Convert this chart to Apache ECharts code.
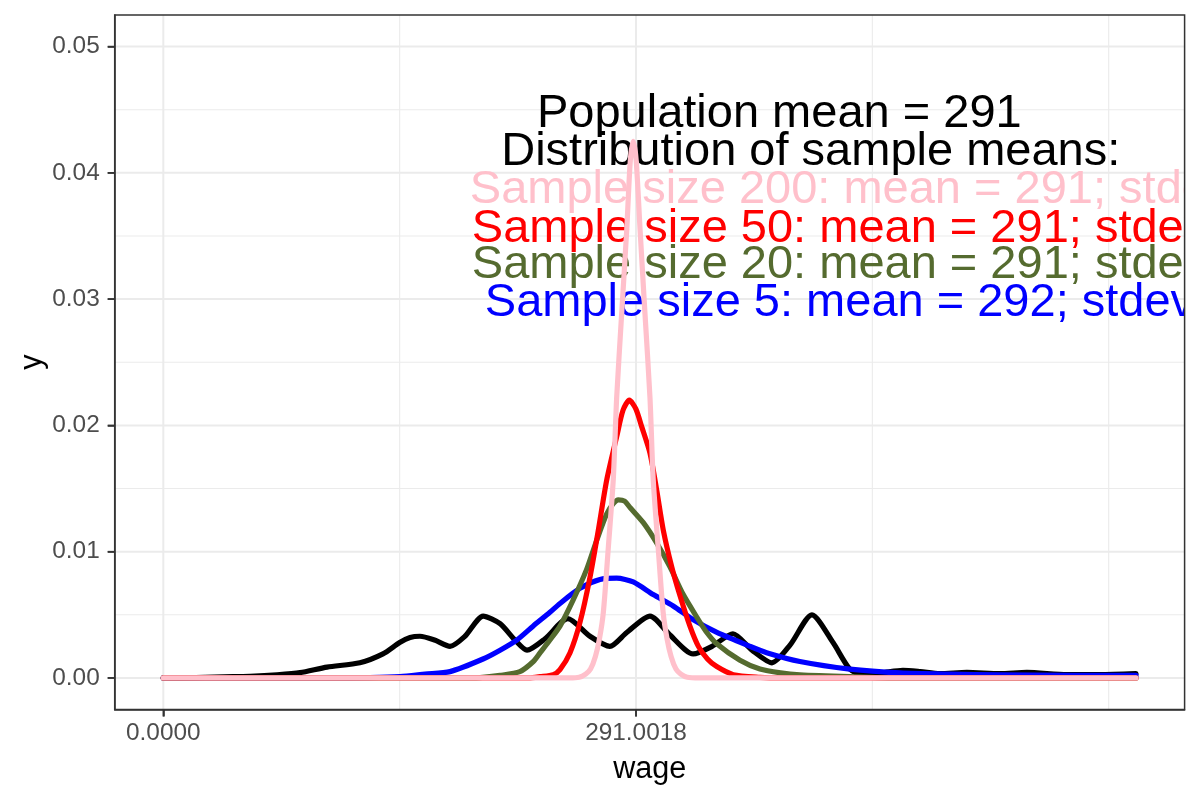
<!DOCTYPE html>
<html>
<head>
<meta charset="utf-8">
<script src="https://cdn.jsdelivr.net/npm/echarts@6/dist/echarts.min.js"></script>
<style>
html, body { margin: 0; padding: 0; background: #ffffff; }
#chart { width: 1200px; height: 800px; }
</style>
</head>
<body>
<div id="chart"></div>
<script>
// ---- Data ----
// Population density (black)
const xBlack = [0, 20, 42.9, 53.4, 70, 84.2, 100.8, 121, 135.2, 145.5, 151.9, 158, 167, 176.5, 185.7, 196.9, 207.3, 216.5, 223.9, 235, 249, 262.7, 274.9, 285.3, 299.6, 311.9, 326.2, 337.8, 350.7, 362.4, 374.7, 385.8, 399.3, 412.3, 422.6, 430, 442, 455.3, 466, 478, 494.7, 515, 531.6, 556.3, 576.6, 598.8];
const yBlack = [0, 0.00002, 0.0001, 0.00013, 0.00025, 0.00042, 0.00086, 0.0012, 0.0019, 0.0028, 0.0032, 0.0033, 0.0030, 0.0025, 0.0033, 0.0049, 0.0043, 0.0030, 0.0022, 0.0031, 0.0047, 0.0033, 0.0025, 0.0036, 0.0049, 0.0034, 0.0019, 0.0025, 0.0035, 0.0022, 0.0012, 0.0026, 0.0050, 0.0028, 0.0007, 0.0003, 0.0004, 0.0006, 0.0005, 0.00034, 0.00044, 0.00034, 0.00044, 0.00026, 0.00026, 0.00034];
// Sample size 5 (blue)
const xBlue = [0, 100, 127.2, 145.7, 161.1, 176.5, 196.8, 207.3, 217.6, 227.6, 238, 244.2, 256.5, 268.8, 279.1, 289.3, 301.6, 313.9, 326.3, 340.8, 361.2, 371.4, 391.9, 422.7, 453.5, 484.3, 515, 560, 598.8];
const yBlue = [0, 0, 0.00002, 0.0001, 0.0003, 0.0005, 0.0015, 0.0022, 0.0030, 0.0041, 0.0052, 0.0059, 0.0071, 0.0078, 0.0079, 0.0076, 0.0066, 0.0057, 0.0046, 0.0036, 0.0025, 0.0020, 0.0013, 0.0007, 0.0004, 0.0003, 0.00025, 0.0002, 0.0002];
// Sample size 20 (dark olive green)
const xGreen = [0, 180, 195, 207.3, 219.5, 227.8, 232, 238, 244.2, 252.4, 260.6, 266.8, 273, 277, 280.1, 284, 287.3, 295.5, 303.7, 311.9, 320.1, 328.5, 334, 340.7, 355, 367.3, 380, 391.9, 422.7, 453.5, 598.8];
const yGreen = [0, 0, 0.00003, 0.0002, 0.0005, 0.0013, 0.0020, 0.0030, 0.0041, 0.0062, 0.0086, 0.0109, 0.0130, 0.0138, 0.0141, 0.0140, 0.0135, 0.0123, 0.0107, 0.0088, 0.0066, 0.0048, 0.0037, 0.0027, 0.0014, 0.0007, 0.0004, 0.00025, 0.0001, 0, 0];
// Sample size 50 (red)
const xRed = [0, 225, 232, 240.1, 244.2, 250.4, 256.5, 262.7, 267.8, 273, 279.1, 283, 286.9, 290.9, 294.5, 299.6, 303.7, 307.8, 313, 318.1, 324.2, 329.4, 335, 340.7, 350.9, 367.3, 380, 598.8];
const yRed = [0, 0, 0.0001, 0.00026, 0.00066, 0.0020, 0.0044, 0.0080, 0.0117, 0.0157, 0.0191, 0.0212, 0.0220, 0.0213, 0.0199, 0.0178, 0.0149, 0.0117, 0.0088, 0.0065, 0.0041, 0.0025, 0.0015, 0.0009, 0.00026, 0.00005, 0, 0];
// Sample size 200 (pink)
const xPink = [0, 250, 256, 260, 263, 266, 268.5, 270.9, 274, 277, 279.1, 282.2, 285.3, 287.5, 289.3, 291.1, 293.5, 296.5, 299.6, 301.6, 304.6, 307.7, 310.1, 312.6, 315.6, 318.6, 322.6, 330, 598.8];
const yPink = [0, 0, 0.00005, 0.0003, 0.0007, 0.0017, 0.0031, 0.0052, 0.0104, 0.0157, 0.0222, 0.0289, 0.0355, 0.0410, 0.0425, 0.0410, 0.0355, 0.0289, 0.0222, 0.0157, 0.0104, 0.0052, 0.0031, 0.0017, 0.0007, 0.0003, 0.00005, 0, 0];

// Axis ticks / labels
const xTicks = [0, 291.0018];
const yTicks = [0, 0.01, 0.02, 0.03, 0.04, 0.05];
const xMinorGrid = [145.5009, 436.5027, 582.0036];
const yMinorGrid = [0.005, 0.015, 0.025, 0.035, 0.045];

// Annotation texts
const annoText = [
  'Population mean = 291',
  'Distribution of sample means:',
  'Sample size 200: mean = 291; stdev',
  'Sample size 50: mean = 291; stdev',
  'Sample size 20: mean = 291; stdev',
  'Sample size 5: mean = 292; stdev'
];

// ---- Presentation ----
const annoColor = ['#000000', '#000000', '#FFC0CB', '#FF0000', '#556B2F', '#0000FF'];
const annoPos = [[230.0, 0.04466], [208.0, 0.04164], [188.7, 0.03866], [189.9, 0.03556], [189.9, 0.03266], [197.9, 0.02966]];
const FONT = '"Liberation Sans", Arial, Helvetica, sans-serif';

function zip(xs, ys) { return xs.map((x, i) => [x, ys[i]]); }

const gridData = [];
yTicks.forEach(v => gridData.push([v, 0, 1]));
yMinorGrid.forEach(v => gridData.push([v, 0, 0]));
xTicks.forEach(v => gridData.push([v, 1, 1]));
xMinorGrid.forEach(v => gridData.push([v, 1, 0]));

function lineSeries(name, xs, ys, color) {
  return {
    name: name, type: 'line', data: zip(xs, ys),
    showSymbol: false, symbol: 'none', smooth: 0.25,
    lineStyle: { color: color, width: 5.2, cap: 'round', join: 'round' },
    z: 3, silent: true, animation: false
  };
}

const GRID = { left: 114.7, right: 15.4, top: 15, bottom: 90.5 };

const chart = echarts.init(document.getElementById('chart'), null, { renderer: 'canvas' });
chart.setOption({
  backgroundColor: '#ffffff',
  animation: false,
  grid: { left: GRID.left, right: GRID.right, top: GRID.top, bottom: GRID.bottom, containLabel: false, outerBoundsMode: 'none', show: false },
  xAxis: {
    type: 'value', min: -29.94, max: 628.74,
    axisLine: { show: true, onZero: false, lineStyle: { color: '#333333', width: 1.5 } },
    axisTick: { show: true, inside: false, length: 7, lineStyle: { color: '#333333', width: 1.6 }, customValues: xTicks },
    axisLabel: { show: true, margin: 12, fontSize: 24.4, fontFamily: FONT, color: '#4D4D4D', customValues: xTicks,
      formatter: v => Number(v).toFixed(4) },
    splitLine: { show: false }, minorSplitLine: { show: false }
  },
  yAxis: {
    type: 'value', min: -0.0025, max: 0.0525,
    axisLine: { show: true, onZero: false, lineStyle: { color: '#333333', width: 1.5 } },
    axisTick: { show: true, inside: false, length: 7, lineStyle: { color: '#333333', width: 1.6 }, customValues: yTicks },
    axisLabel: { show: true, margin: 15, fontSize: 24.4, fontFamily: FONT, color: '#4D4D4D', customValues: yTicks,
      formatter: v => Number(v).toFixed(2) },
    splitLine: { show: false }, minorSplitLine: { show: false }
  },
  graphic: [
    { type: 'text', x: 649.8, y: 770, silent: true,
      style: { text: 'wage', font: '30.6px ' + FONT, fill: '#000000', align: 'center', verticalAlign: 'middle', textAlign: 'center', textVerticalAlign: 'middle' } },
    { type: 'text', x: 33, y: 362, rotation: Math.PI / 2, silent: true,
      style: { text: 'y', font: '30.6px ' + FONT, fill: '#000000', align: 'center', verticalAlign: 'middle', textAlign: 'center', textVerticalAlign: 'middle' } },
    { type: 'rect', z: 100, silent: true,
      shape: { x: GRID.left, y: GRID.top, width: 1200 - GRID.left - GRID.right, height: 800 - GRID.top - GRID.bottom },
      style: { fill: 'none', stroke: '#333333', lineWidth: 1.5 } }
  ],
  series: [
    {
      type: 'custom', name: 'grid', z: 0, silent: true, animation: false,
      data: gridData,
      renderItem: function (params, api) {
        const v = api.value(0), dir = api.value(1), major = api.value(2);
        const cs = params.coordSys;
        const w = major ? 2 : 1.1;
        if (dir === 0) {
          const y = api.coord([0, v])[1];
          return { type: 'line', shape: { x1: cs.x, y1: y, x2: cs.x + cs.width, y2: y }, style: { stroke: '#EBEBEB', lineWidth: w } };
        } else {
          const x = api.coord([v, 0])[0];
          return { type: 'line', shape: { x1: x, y1: cs.y, x2: x, y2: cs.y + cs.height }, style: { stroke: '#EBEBEB', lineWidth: w } };
        }
      }
    },
    {
      type: 'custom', name: 'annotations', z: 1, silent: true, animation: false, clip: true,
      data: annoPos.map((p, i) => [p[0], p[1], i]),
      renderItem: function (params, api) {
        const p = api.coord([api.value(0), api.value(1)]);
        const i = api.value(2);
        return { type: 'text', x: p[0], y: p[1],
          style: { text: annoText[i], fill: annoColor[i], font: '47px ' + FONT,
            align: 'left', verticalAlign: 'middle', textAlign: 'left', textVerticalAlign: 'middle' } };
      }
    },
    lineSeries('population', xBlack, yBlack, '#000000'),
    lineSeries('n = 5', xBlue, yBlue, '#0000FF'),
    lineSeries('n = 20', xGreen, yGreen, '#556B2F'),
    lineSeries('n = 50', xRed, yRed, '#FF0000'),
    lineSeries('n = 200', xPink, yPink, '#FFC0CB')
  ]
});

// Fallback ticks drawn through the axes' own pixel conversion
const tickEls = [];
yTicks.forEach(v => {
  const p = chart.convertToPixel({ gridIndex: 0 }, [0, v]);
  tickEls.push({ type: 'line', z: 101, silent: true,
    shape: { x1: GRID.left - 7, y1: p[1], x2: GRID.left, y2: p[1] },
    style: { stroke: '#333333', lineWidth: 1.6 } });
});
xTicks.forEach(v => {
  const p = chart.convertToPixel({ gridIndex: 0 }, [v, 0]);
  const yb = 800 - GRID.bottom;
  tickEls.push({ type: 'line', z: 101, silent: true,
    shape: { x1: p[0], y1: yb, x2: p[0], y2: yb + 7 },
    style: { stroke: '#333333', lineWidth: 1.6 } });
});
chart.setOption({ graphic: tickEls.map((e, i) => Object.assign({ id: 'tick' + i }, e)) });
</script>
</body>
</html>
